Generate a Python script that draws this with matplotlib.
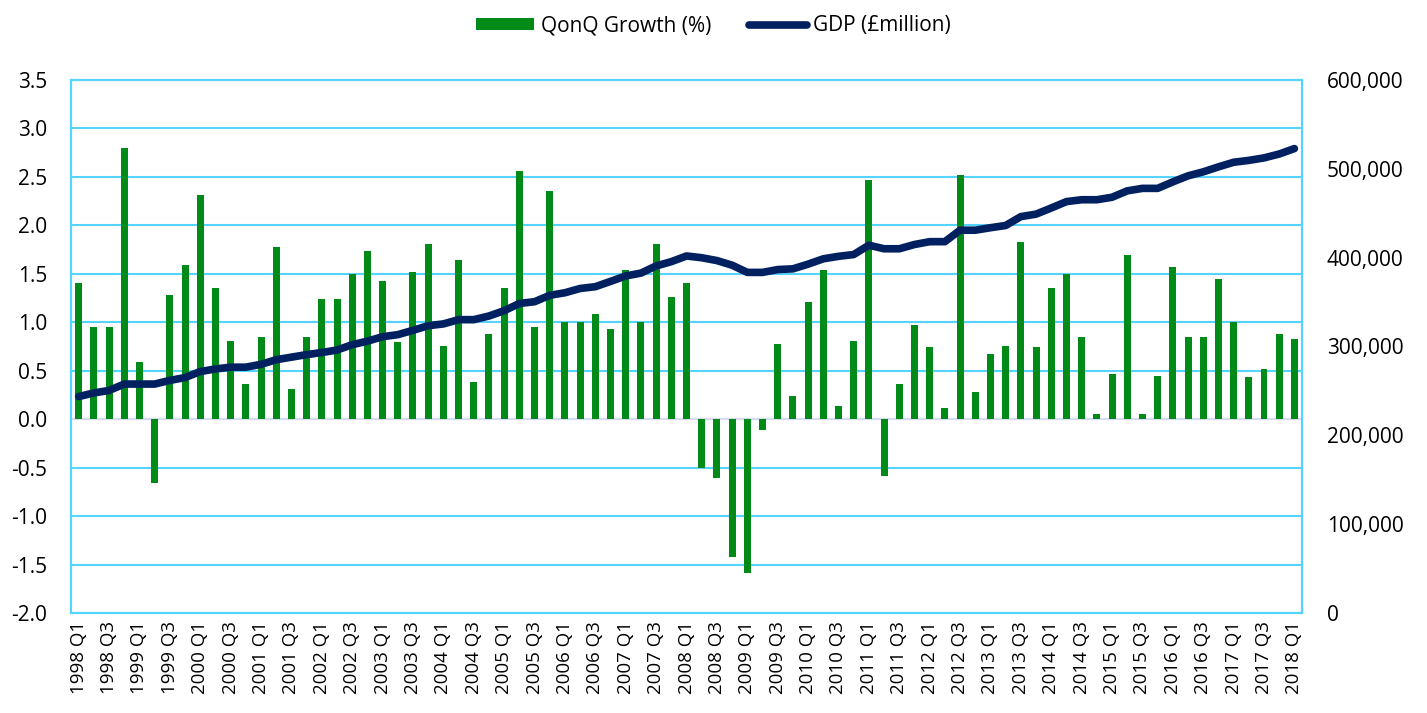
import numpy as np
import matplotlib
matplotlib.use("Agg")
import matplotlib.pyplot as plt
from matplotlib.ticker import FuncFormatter

plt.rcParams['font.family'] = ['Open Sans', 'DejaVu Sans']

quarters = []
for yr in range(1998, 2019):
    for q in range(1, 5):
        quarters.append("%d Q%d" % (yr, q))
quarters = quarters[:81]

growth = [1.40, 0.95, 0.95, 2.80, 0.59, -0.66, 1.28, 1.59, 2.31, 1.35, 0.81, 0.36,
          0.85, 1.78, 0.31, 0.85, 1.24, 1.24, 1.50, 1.74, 1.43, 0.80, 1.52, 1.81,
          0.76, 1.64, 0.38, 0.88, 1.35, 2.56, 0.95, 2.35, 1.00, 1.00, 1.09, 0.93,
          1.54, 1.00, 1.81, 1.26, 1.40, -0.50, -0.61, -1.42, -1.59, -0.11, 0.78, 0.24,
          1.21, 1.54, 0.14, 0.81, 2.47, -0.59, 0.36, 0.97, 0.74, 0.12, 2.52, 0.28,
          0.67, 0.76, 1.83, 0.74, 1.35, 1.50, 0.85, 0.05, 0.47, 1.69, 0.05, 0.45,
          1.57, 0.85, 0.85, 1.45, 1.00, 0.43, 0.52, 0.88, 0.83]

gdp = [243600, 247700, 250500, 257700, 257700, 257700, 261800, 265000, 271800, 274700,
       276700, 276700, 279900, 285100, 288000, 290800, 293200, 296000, 302000, 306000,
       311000, 313300, 318200, 323400, 325400, 330200, 330200, 334300, 340300, 348400,
       350400, 357600, 360500, 365300, 367300, 373300, 379400, 382600, 390700, 395500,
       401900, 399900, 396700, 391500, 383400, 383400, 386600, 387400, 392700, 398700,
       401500, 403500, 414000, 410000, 410000, 414800, 418000, 418000, 430900, 430900,
       433700, 436200, 446200, 449000, 455900, 463100, 465200, 465200, 468000, 475200,
       478000, 478000, 485300, 492100, 496600, 502200, 507400, 509500, 512300, 516700,
       522800]

grid_c = '#55D4FF'
x = np.arange(len(quarters))

fig = plt.figure(figsize=(14.27, 7.13), dpi=100)
ax = fig.add_axes([0.0498, 0.1403, 0.8626, 0.7475])
ax2 = ax.twinx()

ax.set_zorder(1)
ax2.set_zorder(2)
ax.patch.set_visible(True)
ax2.patch.set_visible(False)

ax.bar(x, growth, width=0.46, color='#008A17', label='QonQ Growth (%)', zorder=3)
ax.axhline(0, color='#D9D9F3', lw=1.5, zorder=2)
ax.set_ylim(-2.0, 3.5)
ax.set_yticks(np.arange(-2.0, 3.51, 0.5))
ax.yaxis.set_major_formatter(FuncFormatter(lambda v, p: "%.1f" % v))
ax.grid(axis='y', color=grid_c, lw=1.5, zorder=0)
ax.set_axisbelow(True)
ax.set_xlim(-0.5, len(quarters) - 0.5)
ax.set_xticks(x[::2])
ax.set_xticklabels(quarters[::2], rotation=90, fontsize=13.5)

ax2.plot(x, gdp, color='#002060', lw=5.5, solid_capstyle='round', solid_joinstyle='round',
         label='GDP (£million)', zorder=4)
ax2.set_ylim(0, 600000)
ax2.set_yticks(np.arange(0, 600001, 100000))
ax2.yaxis.set_major_formatter(FuncFormatter(lambda v, p: "{:,.0f}".format(v)))

for a in (ax, ax2):
    for s in a.spines.values():
        s.set_color(grid_c)
        s.set_linewidth(1.5)
    a.tick_params(length=0, pad=8)
ax.tick_params(axis='y', pad=17, labelsize=15)
ax2.tick_params(axis='y', pad=18, labelsize=15)
ax.tick_params(axis='x', pad=6)

h1, l1 = ax.get_legend_handles_labels()
h2, l2 = ax2.get_legend_handles_labels()
fig.legend(h1 + h2, l1 + l2, loc='upper center', bbox_to_anchor=(0.5, 1.005), ncol=2,
           frameon=False, fontsize=15, handlelength=2.8, handleheight=0.5,
           handletextpad=0.3, columnspacing=1.8)

fig.savefig('out.png', dpi=100)
